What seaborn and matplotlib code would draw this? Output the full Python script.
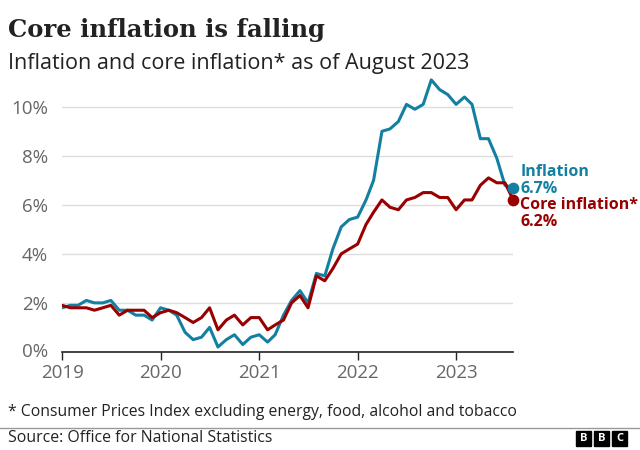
import pandas as pd
import numpy as np
import matplotlib
matplotlib.use('Agg')
import matplotlib.pyplot as plt
import matplotlib.dates as mdates
from matplotlib.patches import Rectangle
import seaborn as sns

# UK CPI, monthly Jan 2019 - Aug 2023
months = pd.date_range('2019-01-01', '2023-08-01', freq='MS')
inflation = [1.8, 1.9, 1.9, 2.1, 2.0, 2.0, 2.1, 1.7, 1.7, 1.5, 1.5, 1.3,
             1.8, 1.7, 1.5, 0.8, 0.5, 0.6, 1.0, 0.2, 0.5, 0.7, 0.3, 0.6,
             0.7, 0.4, 0.7, 1.5, 2.1, 2.5, 2.0, 3.2, 3.1, 4.2, 5.1, 5.4,
             5.5, 6.2, 7.0, 9.0, 9.1, 9.4, 10.1, 9.9, 10.1, 11.1, 10.7, 10.5,
             10.1, 10.4, 10.1, 8.7, 8.7, 7.9, 6.8, 6.7]
core = [1.9, 1.8, 1.8, 1.8, 1.7, 1.8, 1.9, 1.5, 1.7, 1.7, 1.7, 1.4,
        1.6, 1.7, 1.6, 1.4, 1.2, 1.4, 1.8, 0.9, 1.3, 1.5, 1.1, 1.4,
        1.4, 0.9, 1.1, 1.3, 2.0, 2.3, 1.8, 3.1, 2.9, 3.4, 4.0, 4.2,
        4.4, 5.2, 5.7, 6.2, 5.9, 5.8, 6.2, 6.3, 6.5, 6.5, 6.3, 6.3,
        5.8, 6.2, 6.2, 6.8, 7.1, 6.9, 6.9, 6.2]
series_names = ['Inflation', 'Core inflation*']
y_ticks = [0, 2, 4, 6, 8, 10]
x_years = [2019, 2020, 2021, 2022, 2023]

teal = '#1380a1'
red = '#990000'
palette = {'Inflation': teal, 'Core inflation*': red}

df = pd.DataFrame({'month': list(months) * 2,
                   'value': inflation + core,
                   'series': [series_names[0]] * len(months) + [series_names[1]] * len(months)})

sns.set_style('white')
plt.rcParams['font.family'] = ['Open Sans', 'DejaVu Sans']

fig = plt.figure(figsize=(6.4, 4.5), dpi=100)
ax = fig.add_axes([0.097, 0.218, 0.705, 0.61])

sns.lineplot(data=df, x='month', y='value', hue='series', palette=palette,
             linewidth=2.2, legend=False, ax=ax)

ax.set_ylim(0, 11.2)
ax.set_xlim(pd.Timestamp('2019-01-01'), pd.Timestamp('2023-08-01'))
ax.set_yticks(y_ticks)
ax.set_yticklabels([f'{t}%' for t in y_ticks])
ax.set_xticks([pd.Timestamp(f'{y}-01-01') for y in x_years])
ax.xaxis.set_major_formatter(mdates.DateFormatter('%Y'))
ax.grid(axis='y', color='#dddddd', linewidth=1)
ax.set_axisbelow(True)
ax.set_xlabel('')
ax.set_ylabel('')
for s in ['top', 'right', 'left']:
    ax.spines[s].set_visible(False)
ax.spines['bottom'].set_color('#222222')
ax.spines['bottom'].set_linewidth(1.2)
ax.tick_params(axis='y', length=0, labelsize=13.5, labelcolor='#666666', pad=10)
ax.tick_params(axis='x', length=6, width=1, color='#222222', labelsize=13.5,
               labelcolor='#666666', bottom=True, pad=3)
ax.get_yticklabels()[0].set_verticalalignment('center')

# end dots and labels
last = months[-1]
ax.scatter([last], [inflation[-1]], s=55, color=teal, zorder=5, clip_on=False)
ax.scatter([last], [core[-1]], s=55, color=red, zorder=5, clip_on=False)
ax.annotate(f'Inflation\n{inflation[-1]}%', (last, inflation[-1]), xytext=(5, -6.5),
            textcoords='offset points', color=teal, fontsize=11.5, fontweight='bold',
            va='bottom', ha='left', linespacing=1.08, annotation_clip=False)
ax.annotate(f'Core inflation*\n{core[-1]}%', (last, core[-1]), xytext=(5, 2),
            textcoords='offset points', color=red, fontsize=11.5, fontweight='bold',
            va='top', ha='left', linespacing=1.08, annotation_clip=False)

# titles
fig.text(8 / 640, 1 - 30 / 450, 'Core inflation is falling', fontsize=17.5,
         fontweight='bold', family='DejaVu Serif', color='#222222', va='center')
fig.text(8 / 640, 1 - 63 / 450, 'Inflation and core inflation* as of August 2023',
         fontsize=15.5, color='#222222', va='center')

# footer
fig.text(8 / 640, 1 - 412 / 450,
         '* Consumer Prices Index excluding energy, food, alcohol and tobacco',
         fontsize=11.3, color='#222222', va='center')
fig.add_artist(plt.Line2D([0, 1], [1 - 428 / 450] * 2, color='#999999', linewidth=1,
                          transform=fig.transFigure))
fig.text(8 / 640, 1 - 438 / 450, 'Source: Office for National Statistics',
         fontsize=11.4, color='#222222', va='center')
for i, letter in enumerate('BBC'):
    x0 = (576 + i * 18) / 640
    fig.add_artist(Rectangle((x0, 1 - 446 / 450), 15 / 640, 15 / 450,
                             transform=fig.transFigure, color='black'))
    fig.text(x0 + 7.5 / 640, 1 - 438.5 / 450, letter, color='white', fontsize=8,
             fontweight='bold', ha='center', va='center')

fig.savefig('out.png', dpi=100)
